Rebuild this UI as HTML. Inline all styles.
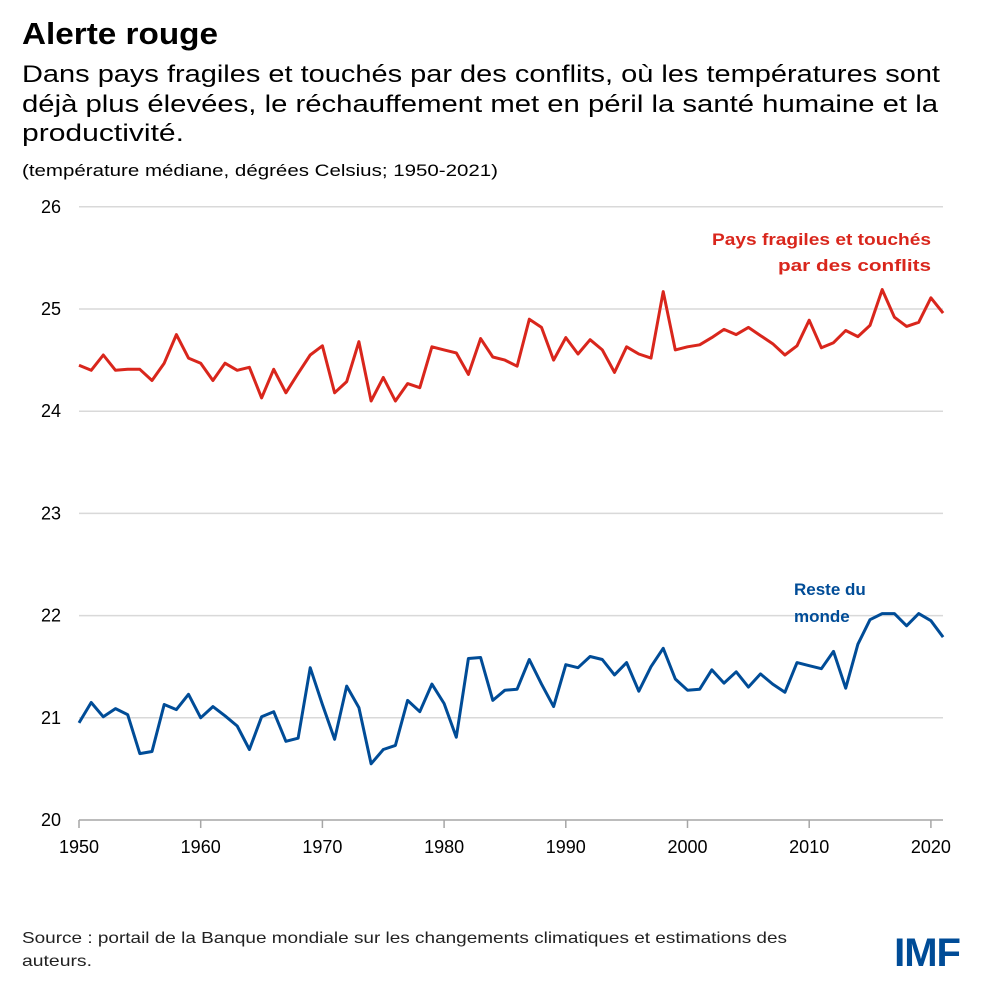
<!DOCTYPE html>
<html><head><meta charset="utf-8"><style>
body{margin:0;background:#fff;width:1000px;height:995px;overflow:hidden;font-family:"Liberation Sans",sans-serif;}
</style></head><body>
<svg width="1000" height="995" xmlns="http://www.w3.org/2000/svg" font-family="Liberation Sans, sans-serif">
<text x="22" y="44" font-size="31" font-weight="bold" fill="#000" textLength="196" lengthAdjust="spacingAndGlyphs">Alerte rouge</text>
<text font-size="24" fill="#000"><tspan x="22" y="82" textLength="918" lengthAdjust="spacingAndGlyphs">Dans pays fragiles et touchés par des conflits, où les températures sont</tspan><tspan x="22" y="112" textLength="916" lengthAdjust="spacingAndGlyphs">déjà plus élevées, le réchauffement met en péril la santé humaine et la</tspan><tspan x="22" y="141" textLength="162" lengthAdjust="spacingAndGlyphs">productivité.</tspan></text>
<text x="22" y="176" font-size="17" fill="#000" textLength="476" lengthAdjust="spacingAndGlyphs">(température médiane, dégrées Celsius; 1950-2021)</text>
<g id="grid" stroke="#d9d9d9" stroke-width="1.5"></g>
<g id="ylab" font-size="18" fill="#000" text-anchor="end"></g>
<line x1="79" y1="820" x2="943" y2="820" stroke="#a6a6a6" stroke-width="1.5"/>
<g id="xt" font-size="18" fill="#000" text-anchor="middle"></g>
<polyline id="red" fill="none" stroke="#d9261c" stroke-width="3" stroke-linejoin="round"/>
<polyline id="blue" fill="none" stroke="#004c97" stroke-width="3" stroke-linejoin="round"/>
<text font-size="17" font-weight="bold" fill="#d9261c" text-anchor="end"><tspan x="931" y="245" textLength="219" lengthAdjust="spacingAndGlyphs">Pays fragiles et touchés</tspan><tspan x="931" y="271" textLength="153" lengthAdjust="spacingAndGlyphs">par des conflits</tspan></text>
<text font-size="17" font-weight="bold" fill="#004c97"><tspan x="794" y="595">Reste du</tspan><tspan x="794" y="622">monde</tspan></text>
<text font-size="16" fill="#222"><tspan x="22" y="943" textLength="765" lengthAdjust="spacingAndGlyphs">Source : portail de la Banque mondiale sur les changements climatiques et estimations des</tspan><tspan x="22" y="966" textLength="70" lengthAdjust="spacingAndGlyphs">auteurs.</tspan></text>
<text x="960" y="966" font-size="40" font-weight="bold" fill="#004c97" text-anchor="end" letter-spacing="-1">IMF</text>
</svg>
<script>
var ns="http://www.w3.org/2000/svg";
function Y(v){return 820-(v-20)*102.2;}
function X(yr){return 79+(yr-1950)*12.17;}
var g=document.getElementById('grid'),yl=document.getElementById('ylab'),xt=document.getElementById('xt');
for(var v=21;v<=26;v++){var l=document.createElementNS(ns,'line');l.setAttribute('x1',79);l.setAttribute('x2',943);l.setAttribute('y1',Y(v));l.setAttribute('y2',Y(v));g.appendChild(l);}
for(var v=20;v<=26;v++){var t=document.createElementNS(ns,'text');t.setAttribute('x',61);t.setAttribute('y',Y(v)+6);t.textContent=v;yl.appendChild(t);}
for(var yr=1950;yr<=2020;yr+=10){var l=document.createElementNS(ns,'line');l.setAttribute('x1',X(yr));l.setAttribute('x2',X(yr));l.setAttribute('y1',820);l.setAttribute('y2',828);l.setAttribute('stroke','#a6a6a6');l.setAttribute('stroke-width','1.5');xt.appendChild(l);
var t=document.createElementNS(ns,'text');t.setAttribute('x',X(yr));t.setAttribute('y',853);t.textContent=yr;xt.appendChild(t);}
var red=[24.45,24.4,24.55,24.4,24.41,24.41,24.3,24.47,24.75,24.52,24.47,24.3,24.47,24.4,24.43,24.13,24.41,24.18,24.37,24.55,24.64,24.18,24.29,24.68,24.1,24.33,24.1,24.27,24.23,24.63,24.6,24.57,24.36,24.71,24.53,24.5,24.44,24.9,24.82,24.5,24.72,24.56,24.7,24.6,24.38,24.63,24.56,24.52,25.17,24.6,24.63,24.65,24.72,24.8,24.75,24.82,24.74,24.66,24.55,24.64,24.89,24.62,24.67,24.79,24.73,24.84,25.19,24.92,24.83,24.87,25.11,24.96];
var blue=[20.95,21.15,21.01,21.09,21.03,20.65,20.67,21.13,21.08,21.23,21.0,21.11,21.02,20.92,20.69,21.01,21.06,20.77,20.8,21.49,21.13,20.79,21.31,21.1,20.55,20.69,20.73,21.17,21.06,21.33,21.14,20.81,21.58,21.59,21.17,21.27,21.28,21.57,21.33,21.11,21.52,21.49,21.6,21.57,21.42,21.54,21.26,21.5,21.68,21.38,21.27,21.28,21.47,21.34,21.45,21.3,21.43,21.33,21.25,21.54,21.51,21.48,21.65,21.29,21.72,21.96,22.02,22.02,21.9,22.02,21.95,21.79];
function pts(a){return a.map(function(v,i){return X(1950+i).toFixed(1)+','+Y(v).toFixed(1)}).join(' ');}
document.getElementById('red').setAttribute('points',pts(red));
document.getElementById('blue').setAttribute('points',pts(blue));
</script>
</body></html>
